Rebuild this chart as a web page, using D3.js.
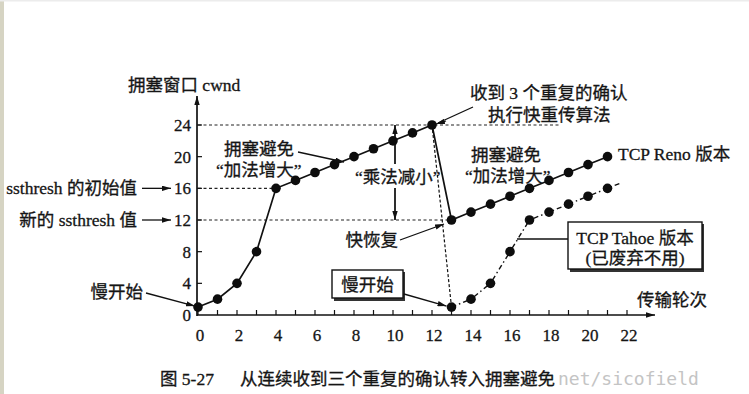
<!DOCTYPE html>
<html>
<head>
<meta charset="utf-8">
<script src="https://cdn.jsdelivr.net/npm/d3@7"></script>
<style>
  body { margin: 0; background: #fff; }
  text { font-family: "Liberation Serif", "Noto Sans CJK SC", serif; fill: #151515; stroke: #151515; stroke-width: 0.3; }
</style>
</head>
<body>
<script>
// transmission rounds and cwnd values
const renoRounds = [0,1,2,3,4,5,6,7,8,9,10,11,12,13,14,15,16,17,18,19,20,21];
const renoCwnd   = [1,2,4,8,16,17,18,19,20,21,22,23,24,12,13,14,15,16,17,18,19,20];
const tahoeRounds = [13,14,15,16,17,18,19,20,21];
const tahoeCwnd   = [1,2,4,8,12,13,14,15,16];
const tahoeTail = [[21,16],[21.7,16.7]];
const tahoeDrop = [[12,24],[13,1]];
const xTicks = [0,2,4,6,8,10,12,14,16,18,20,22];
const yTicks = [0,4,8,12,16,20,24];

const width = 749, height = 394;

const svg = d3.select('body').append('svg')
    .attr("width", width)
    .attr("height", height);

// scan edges
svg.append("rect").attr("x", 0).attr("y", 0).attr("width", 4).attr("height", height).attr("fill", "#d6d4c3");
svg.append("rect").attr("x", 0).attr("y", 0).attr("width", width).attr("height", 1.5).attr("fill", "#ececec");

const defs = svg.append("defs");
defs.append("marker")
    .attr("id", "arr")
    .attr("viewBox", "0 0 10 6")
    .attr("refX", 10).attr("refY", 3)
    .attr("markerWidth", 9).attr("markerHeight", 5.5)
    .attr("markerUnits", "userSpaceOnUse")
    .attr("orient", "auto")
    .append("path").attr("d", "M0,0L10,3L0,6z").attr("fill", "#111");

const x = d3.scaleLinear().domain([0, 22]).range([198, 627]);
const y = d3.scaleLinear().domain([0, 24]).range([315, 125]);

const line = d3.line().x(d => x(d[0])).y(d => y(d[1]));

// dashed guide lines
const guides = [[24, 560], [16, x(4)], [12, x(13)]];
svg.append("g").selectAll("line").data(guides).enter().append("line")
    .attr("x1", x(0)).attr("x2", d => d[1])
    .attr("y1", d => y(d[0])).attr("y2", d => y(d[0]))
    .attr("stroke", "#222").attr("stroke-width", 1.2)
    .attr("stroke-dasharray", "3,2.5");

// axes
svg.append("line").attr("x1", x(0) - 1).attr("x2", 655).attr("y1", y(0)).attr("y2", y(0))
    .attr("stroke", "#111").attr("stroke-width", 1.7).attr("marker-end", "url(#arr)");
svg.append("line").attr("x1", x(0) - 1).attr("x2", x(0) - 1).attr("y1", y(0) + 1).attr("y2", 96)
    .attr("stroke", "#111").attr("stroke-width", 1.7).attr("marker-end", "url(#arr)");

svg.append("g").selectAll("line").data(d3.range(0, 23)).enter().append("line")
    .attr("x1", d => x(d)).attr("x2", d => x(d))
    .attr("y1", y(0)).attr("y2", y(0) - 5)
    .attr("stroke", "#111").attr("stroke-width", 1.2);
svg.append("g").selectAll("line").data(yTicks.slice(1)).enter().append("line")
    .attr("x1", x(0) - 1).attr("x2", x(0) + 4)
    .attr("y1", d => y(d)).attr("y2", d => y(d))
    .attr("stroke", "#111").attr("stroke-width", 1.2);

svg.append("g").selectAll("text").data(xTicks).enter().append("text")
    .attr("x", d => x(d) + 2).attr("y", 341)
    .attr("text-anchor", "middle").attr("font-size", 17)
    .text(d => d);
svg.append("g").selectAll("text").data(yTicks).enter().append("text")
    .attr("x", 191).attr("y", d => y(d)).attr("dy", "0.35em")
    .attr("text-anchor", "end").attr("font-size", 17)
    .text(d => d);

function label(tx, ty, s, anchor) {
    svg.append("text").attr("x", tx).attr("y", ty).attr("font-size", 17.5)
        .attr("text-anchor", anchor || "start").text(s);
}
function arrow(x1, y1, x2, y2) {
    svg.append("line").attr("x1", x1).attr("y1", y1).attr("x2", x2).attr("y2", y2)
        .attr("stroke", "#111").attr("stroke-width", 1.3).attr("marker-end", "url(#arr)");
}

label(128, 91, "拥塞窗口 cwnd");
label(637, 306, "传输轮次");

// multiplicative decrease arrow
arrow(395, y(12), 395, y(24));
arrow(395, y(24), 395, y(12));
svg.append("rect").attr("x", 352).attr("y", 164).attr("width", 88).attr("height", 24).attr("fill", "#fff");
label(355, 183, "“乘法减小”");

// tahoe drop and tahoe line
svg.append("path").attr("d", line(tahoeDrop))
    .attr("fill", "none").attr("stroke", "#111").attr("stroke-width", 1.2)
    .attr("stroke-dasharray", "3,2");
const tahoe = tahoeRounds.map((r, i) => [r, tahoeCwnd[i]]);
svg.append("path").attr("d", line(tahoe.concat(tahoeTail.slice(1))))
    .attr("fill", "none").attr("stroke", "#111").attr("stroke-width", 1.4)
    .attr("stroke-dasharray", "5,3,1.5,3");

// reno line
const reno = renoRounds.map((r, i) => [r, renoCwnd[i]]);
svg.append("path").attr("d", line(reno))
    .attr("fill", "none").attr("stroke", "#111").attr("stroke-width", 1.7);

svg.append("g").selectAll("circle").data(reno).enter().append("circle")
    .attr("cx", d => x(d[0])).attr("cy", d => y(d[1])).attr("r", 4.8).attr("fill", "#0d0d0d");
svg.append("g").selectAll("circle").data(tahoe).enter().append("circle")
    .attr("cx", d => x(d[0])).attr("cy", d => y(d[1])).attr("r", 4.8).attr("fill", "#0d0d0d");

// annotations
label(137, 194, "ssthresh 的初始值", "end");
arrow(142, y(16), 171, y(16));
label(137, 226, "新的 ssthresh 值", "end");
arrow(142, y(12), 171, y(12));

label(143, 298, "慢开始", "end");
arrow(146, 293, x(0) - 3, y(1) - 1);

label(224, 155, "拥塞避免");
label(216, 176, "“加法增大”");
arrow(298, 152, 344, 162);

label(470, 99, "收到 3 个重复的确认");
label(488, 121, "执行快重传算法");
svg.append("line").attr("x1", 473).attr("y1", 107).attr("x2", x(12) + 6).attr("y2", y(24) - 2)
    .attr("stroke", "#111").attr("stroke-width", 1.3);
arrow(446, 121, x(12) + 4, y(24) - 1);

label(471, 161, "拥塞避免");
label(465, 182, "“加法增大”");
label(618, 160, "TCP Reno 版本");

label(398, 246, "快恢复", "end");
arrow(400, 240, 444, 224);

// slow start box (middle)
svg.append("rect").attr("x", 334).attr("y", 272).attr("width", 71).attr("height", 29).attr("fill", "#333");
svg.append("rect").attr("x", 332).attr("y", 270).attr("width", 71).attr("height", 28)
    .attr("fill", "#fff").attr("stroke", "#111").attr("stroke-width", 1.4);
label(367.5, 291, "慢开始", "middle");
arrow(404, 294, x(13) - 5, y(1) - 1);

// tahoe box
svg.append("line").attr("x1", 517).attr("x2", 568).attr("y1", 239).attr("y2", 239)
    .attr("stroke", "#111").attr("stroke-width", 1.3);
svg.append("rect").attr("x", 570).attr("y", 224).attr("width", 134).attr("height", 48).attr("fill", "#333");
svg.append("rect").attr("x", 568).attr("y", 222).attr("width", 134).attr("height", 47)
    .attr("fill", "#fff").attr("stroke", "#111").attr("stroke-width", 1.4);
label(635, 244, "TCP Tahoe 版本", "middle");
label(635, 264, "(已废弃不用)", "middle");

// caption + watermark
label(160, 385, "图 5-27");
label(240, 385, "从连续收到三个重复的确认转入拥塞避免");
svg.append("text").attr("x", 558).attr("y", 385).attr("font-size", 18)
    .style("font-family", "'DejaVu Sans Mono', monospace").style("fill", "#c4c4c4").style("stroke", "none")
    .text("net/sicofield");
</script>
</body>
</html>
